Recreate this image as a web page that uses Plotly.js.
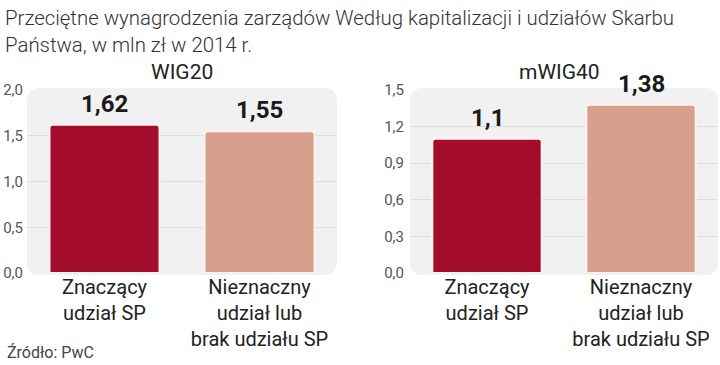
<!DOCTYPE html>
<html>
<head>
<meta charset="utf-8">
<script src="https://cdn.plot.ly/plotly-3.0.1.min.js"></script>
<style>html,body{margin:0;padding:0;background:#fff;}#chart{width:720px;height:365px;}</style>
</head>
<body>
<div id="chart"></div>
<script>
const categories = ["Znaczący<br>udział SP", "Nieznaczny<br>udział lub<br>brak udziału SP"];
const wig20Values = [1.62, 1.55];
const mwig40Values = [1.1, 1.38];
const panelTitles = ["WIG20", "mWIG40"];
const valueLabels20 = ["1,62", "1,55"];
const valueLabels40 = ["1,1", "1,38"];
const barColors = ["#a30d2b", "#d8a08c"];

const W = 720, H = 365;
const dom1 = [27 / W, 337 / W];
const dom2 = [410 / W, 718 / W];
const ydom = [(H - 273) / H, (H - 90) / H];

function roundRect(x0, x1, y0, y1, r) {
  const rx = r / W, ry = r / H;
  return `M ${x0 + rx} ${y1} L ${x1 - rx} ${y1} Q ${x1} ${y1} ${x1} ${y1 - ry} ` +
    `L ${x1} ${y0 + ry} Q ${x1} ${y0} ${x1 - rx} ${y0} L ${x0 + rx} ${y0} ` +
    `Q ${x0} ${y0} ${x0} ${y0 + ry} L ${x0} ${y1 - ry} Q ${x0} ${y1} ${x0 + rx} ${y1} Z`;
}

const font = "Roboto, 'Liberation Sans', sans-serif";

const traces = [
  {
    type: "bar", x: categories, y: wig20Values, xaxis: "x", yaxis: "y",
    marker: { color: barColors, line: { color: "#fbf3f1", width: 2 }, cornerradius: 3 },
    width: 0.71, hoverinfo: "skip"
  },
  {
    type: "bar", x: categories, y: mwig40Values, xaxis: "x2", yaxis: "y2",
    marker: { color: barColors, line: { color: "#fbf3f1", width: 2 }, cornerradius: 3 },
    width: 0.71, hoverinfo: "skip"
  }
];

const annotations = [];
categories.forEach((c, i) => {
  annotations.push({ x: c, y: wig20Values[i], xref: "x", yref: "y", text: valueLabels20[i],
    showarrow: false, xanchor: "center", yanchor: "bottom", yshift: 5,
    font: { family: font, size: 24, color: "#1a1a1a", weight: 700 } });
  annotations.push({ x: c, y: mwig40Values[i], xref: "x2", yref: "y2", text: valueLabels40[i],
    showarrow: false, xanchor: "center", yanchor: "bottom", yshift: 5,
    font: { family: font, size: 24, color: "#1a1a1a", weight: 700 } });
});
annotations.push({ x: (dom1[0] + dom1[1]) / 2, y: (H - 72) / H, xref: "paper", yref: "paper",
  text: panelTitles[0], showarrow: false, xanchor: "center", yanchor: "middle",
  font: { family: font, size: 21, color: "#222" } });
annotations.push({ x: (dom2[0] + dom2[1]) / 2 - 5 / W, y: (H - 72) / H, xref: "paper", yref: "paper",
  text: panelTitles[1], showarrow: false, xanchor: "center", yanchor: "middle",
  font: { family: font, size: 21, color: "#222" } });
annotations.push({ x: 5 / W, y: (H - 352) / H, xref: "paper", yref: "paper",
  text: "Źródło: PwC", showarrow: false, xanchor: "left", yanchor: "middle",
  font: { family: font, size: 16, color: "#444" } });

const yAxisCommon = {
  domain: ydom, showline: false, zeroline: false, showgrid: true,
  gridcolor: "#dddddd", gridwidth: 1, ticks: "", tickformat: ".1f",
  tickfont: { family: font, size: 15, color: "#555" }, fixedrange: true
};
const xAxisCommon = {
  showline: false, zeroline: false, showgrid: false, ticks: "",
  tickfont: { family: font, size: 20, color: "#222" }, fixedrange: true
};

const layout = {
  width: W, height: H,
  margin: { l: 0, r: 0, t: 0, b: 0 },
  paper_bgcolor: "#ffffff", plot_bgcolor: "rgba(0,0,0,0)",
  separators: ", ",
  showlegend: false,
  bargap: 0.29,
  title: {
    text: "Przeciętne wynagrodzenia zarządów Według kapitalizacji i udziałów Skarbu<br>Państwa, w mln zł w 2014 r.",
    x: 5 / W, xref: "container", xanchor: "left",
    y: 1 - 25 / H, yref: "container", yanchor: "top",
    font: { family: font, size: 20.4, color: "#333", weight: 300 }
  },
  xaxis: Object.assign({ domain: dom1, anchor: "y" }, xAxisCommon),
  xaxis2: Object.assign({ domain: dom2, anchor: "y2" }, xAxisCommon),
  yaxis: Object.assign({ anchor: "x", range: [0, 2], dtick: 0.5, tick0: 0, ticklabelstandoff: 3 }, yAxisCommon),
  yaxis2: Object.assign({ anchor: "x2", range: [0, 1.5], dtick: 0.3, tick0: 0, ticklabelstandoff: 5 }, yAxisCommon),
  shapes: [
    { type: "path", xref: "paper", yref: "paper", layer: "below",
      path: roundRect(dom1[0], dom1[1], (H - 275) / H, (H - 88) / H, 13),
      fillcolor: "#f1f1f1", line: { width: 0 } },
    { type: "path", xref: "paper", yref: "paper", layer: "below",
      path: roundRect(dom2[0], dom2[1], (H - 275) / H, (H - 88) / H, 13),
      fillcolor: "#f1f1f1", line: { width: 0 } }
  ],
  annotations: annotations
};

Plotly.newPlot("chart", traces, layout, { staticPlot: true, displayModeBar: false });
</script>
</body>
</html>
